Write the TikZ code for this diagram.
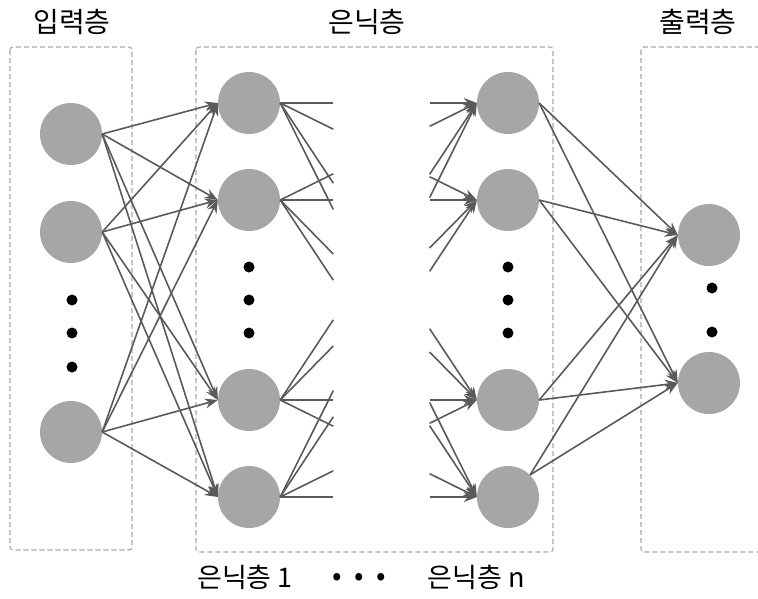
\documentclass[tikz,border=0pt]{standalone}
\usepackage{fontspec}
\setmainfont{Noto Sans CJK KR}
\usetikzlibrary{arrows.meta,calc}
\definecolor{nodegray}{HTML}{A6A6A6}
\definecolor{edgegray}{HTML}{5A5A5A}
\definecolor{boxgray}{HTML}{A8A8A8}
\tikzset{
  neuron/.style={circle,fill=nodegray,draw=none,minimum size=62pt,inner sep=0pt},
  dotmark/.style={circle,fill=black,draw=none,minimum size=11pt,inner sep=0pt},
  layerbox/.style={draw=boxgray,line width=1.1pt,rounded corners=3pt,dash pattern=on 5pt off 3pt},
  conn/.style={draw=edgegray,line width=1.6pt,-{Stealth[length=13pt,width=10pt]}},
  stub/.style={draw=edgegray,line width=1.6pt},
  lbl/.style={font=\fontsize{28}{32}\selectfont,inner sep=0pt},
  blbl/.style={font=\fontsize{27}{31}\selectfont,inner sep=0pt}
}
\begin{document}
\begin{tikzpicture}[x=1pt,y=-1pt]
\useasboundingbox (0,0) rectangle (758,598);
% boxes
\draw[layerbox] (10,47) rectangle (132,550);
\draw[layerbox] (196,47) rectangle (553,552);
\draw[layerbox] (641,47) rectangle (775,552);
% labels
\node[lbl] (tin) at (72,22) {입력층};
\node[lbl] (thid) at (367,22) {은닉층};
\node[lbl] (tout) at (698,22) {출력층};
\node[blbl] (b1) at (245,577) {은닉층 1};
\node[blbl,font=\fontsize{28}{32}\selectfont] (bd) at (359,579) {\makebox[22pt]{•}\makebox[22pt]{•}\makebox[22pt]{•}};
\node[blbl] (bn) at (476,577) {은닉층 n};
% input nodes
\node[neuron] (i1) at (71,134) {};
\node[neuron] (i2) at (71,232) {};
\node[neuron] (i3) at (71,432) {};
\node[dotmark] (id1) at (72,300) {};
\node[dotmark] (id2) at (72,333) {};
\node[dotmark] (id3) at (72,367) {};
% hidden 1
\node[neuron] (h1) at (249,103) {};
\node[neuron] (h2) at (249,200) {};
\node[neuron] (h3) at (249,400) {};
\node[neuron] (h4) at (249,497) {};
\node[dotmark] (hd1) at (249,267) {};
\node[dotmark] (hd2) at (249,300) {};
\node[dotmark] (hd3) at (249,333) {};
% hidden n
\node[neuron] (n1) at (508,103) {};
\node[neuron] (n2) at (508,200) {};
\node[neuron] (n3) at (508,400) {};
\node[neuron] (n4) at (508,497) {};
\node[dotmark] (nd1) at (508,267) {};
\node[dotmark] (nd2) at (508,300) {};
\node[dotmark] (nd3) at (508,333) {};
% output
\node[neuron] (o1) at (709,235) {};
\node[neuron] (o2) at (709,383) {};
\node[dotmark] (od1) at (712,288) {};
\node[dotmark] (od2) at (712,332) {};
% input -> hidden1
\foreach \a in {i1,i2,i3}
  \foreach \b in {h1,h2,h3,h4}
    \draw[conn] (\a.east) -- (\b.west);
% hidden1 -> hidden n (cut in the middle)
\foreach \a in {h1,h2,h3,h4}
  \foreach \b in {n1,n2,n3,n4}{
    \draw[stub] (\a.east) -- ($(\a.east)!0.27!(\b.west)$);
    \draw[conn] ($(\a.east)!0.76!(\b.west)$) -- (\b.west);
  }
% hidden n -> output
\foreach \a in {n1,n2,n3}
  \foreach \b in {o1,o2}
    \draw[conn] (\a.east) -- (\b.west);
\foreach \b in {o1,o2}
  \draw[conn] (n4.north east) -- (\b.west);
\end{tikzpicture}
\end{document}
